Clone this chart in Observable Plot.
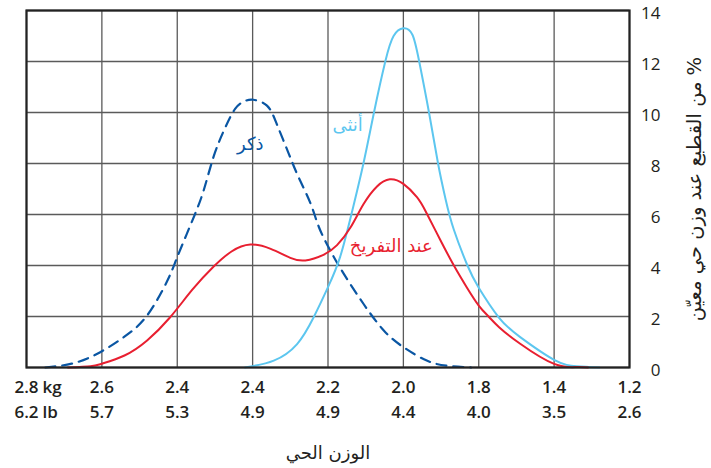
<!DOCTYPE html>
<html><head><meta charset="utf-8">
<script src="https://cdn.jsdelivr.net/npm/d3@7"></script>
<script src="https://cdn.jsdelivr.net/npm/@observablehq/plot@0.6"></script>
<style>body{margin:0;background:#fff} svg{display:block}</style>
</head><body><div id="chart"></div>
<script>
// grid positions (index along the reversed weight axis)
const tickPos = [0, 1, 2, 3, 4, 5, 6, 7, 8];
const kgLabels = ["2.8", "2.6", "2.4", "2.4", "2.2", "2.0", "1.8", "1.4", "1.2"];
const lbLabels = ["6.2", "5.7", "5.3", "4.9", "4.9", "4.4", "4.0", "3.5", "2.6"];
const unitLabels = ["kg", "lb"];
const yTicks = [0, 2, 4, 6, 8, 10, 12, 14];

const xTitle = "الوزن الحي";
const yTitle = "من القطيع عند وزن حي معيّن %";

// males (dashed)
const maleX = [0.25, 0.6, 0.94, 1.29, 1.6, 1.87, 2.0, 2.2, 2.35, 2.48, 2.62, 2.77, 2.9, 3.01, 3.19, 3.32, 3.48, 3.61, 3.77, 3.88, 4.03, 4.21, 4.47, 4.74, 5.0, 5.31, 5.58, 5.9];
const maleY = [0, 0.15, 0.54, 1.19, 2.04, 3.41, 4.33, 5.76, 6.94, 8.25, 9.3, 10.15, 10.45, 10.5, 10.27, 9.55, 8.38, 7.46, 6.42, 5.5, 4.59, 3.67, 2.5, 1.45, 0.8, 0.27, 0.07, 0];

// females
const femaleX = [2.9, 3.28, 3.59, 3.81, 4.0, 4.16, 4.31, 4.47, 4.61, 4.76, 4.87, 5.0, 5.12, 5.21, 5.34, 5.46, 5.56, 5.67, 5.85, 6.0, 6.27, 6.55, 7.0, 7.3, 7.6];
const femaleY = [0, 0.27, 0.92, 1.97, 3.15, 4.33, 6.0, 8.0, 10.0, 12.0, 13.0, 13.3, 13.05, 12.0, 10.0, 8.0, 6.6, 5.4, 4.0, 3.13, 1.95, 1.19, 0.3, 0.05, 0];

// at hatch
const hatchX = [0.55, 0.85, 1.0, 1.3, 1.6, 1.9, 2.2, 2.48, 2.72, 2.97, 3.24, 3.5, 3.7, 3.94, 4.12, 4.3, 4.47, 4.65, 4.82, 5.0, 5.18, 5.3, 5.49, 5.67, 5.84, 6.0, 6.13, 6.27, 6.55, 7.0, 7.3, 7.45];
const hatchY = [0, 0.05, 0.15, 0.47, 1.06, 1.95, 3.05, 3.95, 4.55, 4.82, 4.65, 4.3, 4.2, 4.42, 4.8, 5.5, 6.4, 7.1, 7.38, 7.2, 6.68, 6.1, 5.0, 4.0, 3.15, 2.43, 2.0, 1.58, 0.93, 0.14, 0.02, 0];

const seriesNames = ["ذكر", "أنثى", "عند التفريخ"];
const labelX = [2.97, 4.26, 4.84];
const labelY = [8.75, 9.5, 4.75];
const colors = ["#0a56a3", "#5cc6ef", "#e81f30"];

const toRows = (xs, ys) => xs.map((x, i) => ({x, y: ys[i]}));
const male = toRows(maleX, maleY);
const female = toRows(femaleX, femaleY);
const hatch = toRows(hatchX, hatchY);
const labels = seriesNames.map((t, i) => ({t, x: labelX[i], y: labelY[i], c: colors[i]}));

const numFont = "'Open Sans', sans-serif";
const arFont = "'DejaVu Sans', sans-serif";
const tickStyle = {fontSize: 17, fontWeight: 600, fontFamily: numFont, fill: "#231f20", lineAnchor: "middle"};

const chart = Plot.plot({
  width: 711,
  height: 468,
  marginLeft: 26,
  marginRight: 82,
  marginTop: 10,
  marginBottom: 101,
  x: {domain: [0, 8], axis: null},
  y: {domain: [0, 14], axis: null},
  style: {background: "#fff"},
  marks: [
    Plot.gridX(tickPos, {stroke: "#5a5a5a", strokeOpacity: 1, strokeWidth: 1.3}),
    Plot.gridY(yTicks, {stroke: "#5a5a5a", strokeOpacity: 1, strokeWidth: 1.3}),
    Plot.line(male, {x: "x", y: "y", stroke: colors[0], strokeWidth: 2.2, strokeDasharray: "10,7", curve: "natural"}),
    Plot.line(female, {x: "x", y: "y", stroke: colors[1], strokeWidth: 2, curve: "natural"}),
    Plot.line(hatch, {x: "x", y: "y", stroke: colors[2], strokeWidth: 2, curve: "natural"}),
    Plot.frame({stroke: "#222", strokeWidth: 2.2}),
    // curve labels
    Plot.text(labels, {x: "x", y: "y", text: "t", fill: "c", fontSize: 18, fontFamily: arFont}),
    // x tick labels
    Plot.text(tickPos, {x: d => d, text: (d, i) => kgLabels[i], frameAnchor: "bottom", dy: 20.5, ...tickStyle}),
    Plot.text(tickPos, {x: d => d, text: (d, i) => lbLabels[i], frameAnchor: "bottom", dy: 45, ...tickStyle}),
    Plot.text([unitLabels[0]], {x: () => tickPos[0], text: d => d, frameAnchor: "bottom", dy: 20.5, dx: 16, textAnchor: "start", ...tickStyle}),
    Plot.text([unitLabels[1]], {x: () => tickPos[0], text: d => d, frameAnchor: "bottom", dy: 45, dx: 16, textAnchor: "start", ...tickStyle}),
    // y tick labels (right)
    Plot.text(yTicks, {y: d => d, text: d => String(d), frameAnchor: "right", dx: 31, dy: 3, textAnchor: "end", lineAnchor: "middle", fontSize: 17, fontFamily: numFont, fill: "#231f20"}),
    // axis titles
    Plot.text([xTitle], {text: d => d, frameAnchor: "bottom", dy: 86, lineAnchor: "middle", textAnchor: "middle", fontSize: 18, fontFamily: arFont, fill: "#231f20"}),
    Plot.text([yTitle], {text: d => d, frameAnchor: "right", dx: 65, rotate: -90, textAnchor: "middle", lineAnchor: "middle", fontSize: 19.5, fontFamily: arFont, fill: "#231f20"})
  ]
});
document.getElementById("chart").appendChild(chart);
</script>
</body></html>
